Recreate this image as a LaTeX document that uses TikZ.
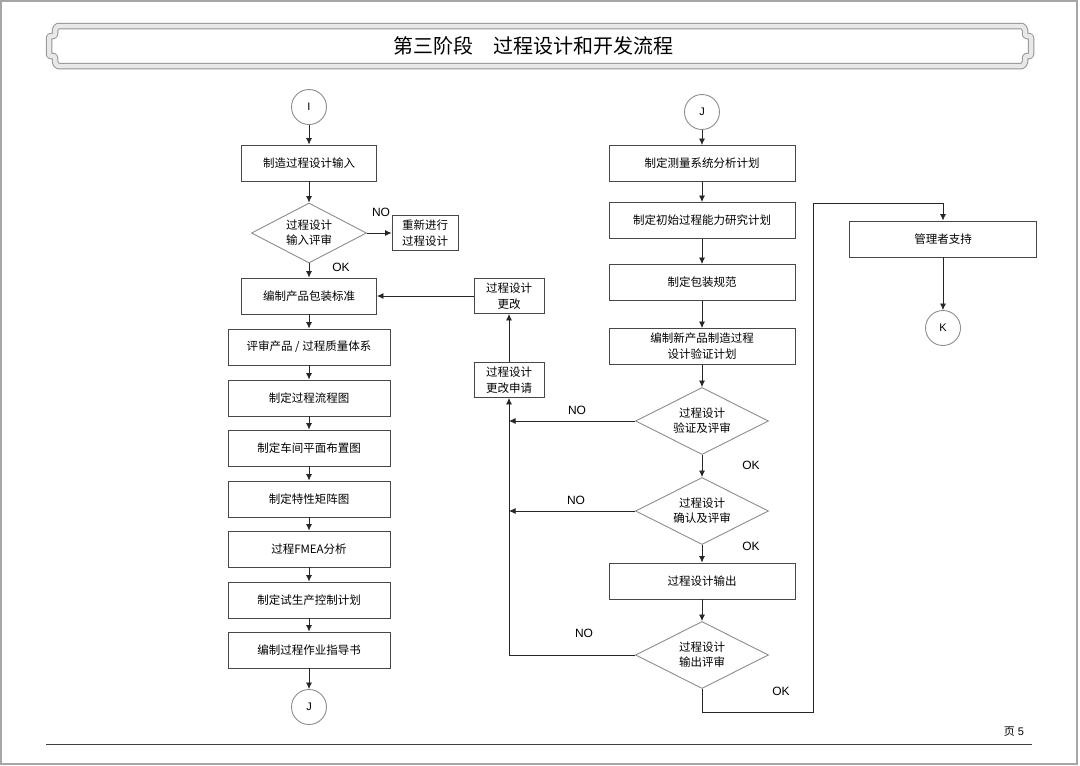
\documentclass[tikz,border=0pt]{standalone}
\usepackage{fontspec}
\setmainfont{Liberation Sans}
\newfontfamily\cjk{Noto Sans CJK SC}
\usetikzlibrary{shapes.geometric,arrows.meta}
\definecolor{boxgray}{gray}{0.28}
\definecolor{lightgray}{gray}{0.55}

\begin{document}
\begin{tikzpicture}[x=1pt,y=-1pt,
  box/.style={draw=boxgray,line width=0.9pt,minimum height=36pt,inner sep=1pt,align=center,
    font=\cjk\fontsize{11.5}{16}\selectfont},
  wide/.style={minimum width=162pt},
  small/.style={minimum width=70pt,minimum height=35pt},
  dia/.style={diamond,draw=lightgray,line width=0.9pt,aspect=2,inner sep=0pt,align=center,
    font=\cjk\fontsize{11.5}{15}\selectfont},
  conn/.style={circle,draw=lightgray,line width=0.9pt,minimum size=35pt,inner sep=0pt,
    font=\fontsize{11}{13}\selectfont},
  lab/.style={font=\fontsize{12}{14}\selectfont},
  arr/.style={draw=black!85,line width=0.8pt,-{Latex[length=6.5pt,width=6pt]}},
  band/.style={draw=gray!85,double=gray!18,double distance=4.5pt,line width=1pt,
    rounded corners=2pt,line join=round}]

\useasboundingbox (0,0) rectangle (1080,766);

\def\colL{309};
\def\colR{702};
\def\colC{509};

% page frame, title bar, footer
\draw [gray!70,line width=1.5pt] (1,1) rectangle (1077,764);
\draw [band] (540,26) -- (1020,26) to[out=0,in=90] (1025,32) -- (1025,36) -- (1031,36) -- (1031,56)
  -- (1025,56) -- (1025,60) to[out=-90,in=0] (1020,66) -- (60,66) to[out=180,in=-90] (55,60)
  -- (55,56) -- (49,56) -- (49,36) -- (55,36) -- (55,32) to[out=90,in=180] (60,26) -- cycle;
\node (title) at (533,46) {\cjk\fontsize{20}{22}\selectfont 第三阶段\quad 过程设计和开发流程};
\draw [gray!50!black,line width=1pt] (46,744) -- (1032,744);
\node [font=\fontsize{11}{13}\selectfont] (page) at (1014,732) {{\cjk 页} 5};

% left column
\node [conn] (I1) at (\colL,107) {I};
\node [box,minimum width=135pt] (L1) at (\colL,163) {制造过程设计输入};
\node [dia,minimum width=115pt,minimum height=60pt] (D1) at (\colL,233) {过程设计\\输入评审};
\node [box,minimum width=66pt,minimum height=35pt] (R1) at (425,233) {重新进行\\过程设计};
\node [box,minimum width=135pt] (L2) at (\colL,296) {编制产品包装标准};

\foreach \n/\y/\t in {3/347/{评审产品 / 过程质量体系},4/398/{制定过程流程图},5/448/{制定车间平面布置图},
  6/499/{制定特性矩阵图},7/549/{过程FMEA分析},8/600/{制定试生产控制计划},9/650/{编制过程作业指导书}}
{
\node [box,wide] (L\n) at (\colL,\y) {\t};
}
\node [conn] (J1) at (\colL,707) {J};

\foreach \a/\b in {I1/L1,L1/D1,D1/L2,L2/L3,L3/L4,L4/L5,L5/L6,L6/L7,L7/L8,L8/L9,L9/J1}
{
\draw [arr] (\a) -- (\b);
}
\draw [arr] (D1) -- (R1);
\node [lab] (no1) at (381,212) {NO};
\node [lab] (ok1) at (341,267) {OK};

% change requests
\node [box,small] (C1) at (\colC,296) {过程设计\\更改};
\node [box,small] (C2) at (\colC,380) {过程设计\\更改申请};
\draw [arr] (C2) -- (C1);
\draw [arr] (C1) -- (L2);

% right column
\node [conn] (J2) at (\colR,112) {J};
\node [box,minimum width=186pt] (M1) at (\colR,163.5) {制定测量系统分析计划};
\node [box,minimum width=186pt] (M2) at (\colR,220.5) {制定初始过程能力研究计划};
\node [box,minimum width=186pt] (M3) at (\colR,282.5) {制定包装规范};
\node [box,minimum width=186pt] (M4) at (\colR,346.5) {编制新产品制造过程\\设计验证计划};
\node [dia,minimum width=133pt,minimum height=67pt] (E1) at (\colR,421) {过程设计\\验证及评审};
\node [dia,minimum width=133pt,minimum height=67pt] (E2) at (\colR,511) {过程设计\\确认及评审};
\node [box,minimum width=186pt] (M5) at (\colR,581) {过程设计输出};
\node [dia,minimum width=133pt,minimum height=67pt] (E3) at (\colR,655) {过程设计\\输出评审};

\foreach \a/\b in {J2/M1,M1/M2,M2/M3,M3/M4,M4/E1,E1/E2,E2/M5,M5/E3}
{
\draw [arr] (\a) -- (\b);
}

\draw [arr] (E1.west) -- (C2 |- E1);
\draw [arr] (E2.west) -- (C2 |- E2);
\draw [arr] (E3.west) -| (C2.south);

\node [lab] (no2) at (577,410) {NO};
\node [lab] (ok2) at (751,465) {OK};
\node [lab] (no3) at (576,500) {NO};
\node [lab] (ok3) at (751,546) {OK};
\node [lab] (no4) at (584,633) {NO};
\node [lab] (ok4) at (781,691) {OK};

% management support
\node [box,minimum width=187pt] (S) at (943,239) {管理者支持};
\node [conn] (K) at (943,328) {K};
\coordinate (B1) at (813,712);
\draw [arr] (E3.south) |- (B1) |- ([yshift=17pt]S.north) -- (S.north);
\draw [arr] (S) -- (K);

\end{tikzpicture}
\end{document}
